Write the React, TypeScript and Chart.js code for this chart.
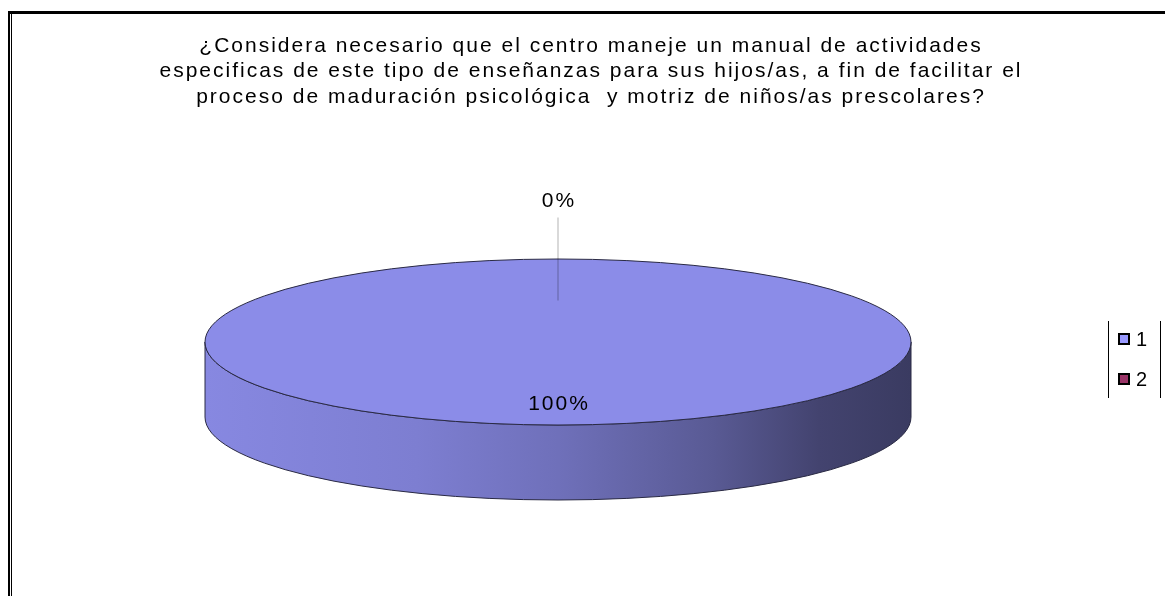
import React, { useEffect, useRef } from "react";
import { Chart, registerables } from "chart.js";

Chart.register(...registerables);

// ---------- data ----------
const categories = ["1", "2"];
const percentValues = [100, 0];
const sliceColors = ["#8b8ce8", "#993366"];
const legendSwatchColors = ["#9999ff", "#993366"];
const titleLines = [
  "¿Considera necesario que el centro maneje un manual de actividades",
  "especificas de este tipo de enseñanzas para sus hijos/as, a fin de facilitar el",
  "proceso de maduración psicológica  y motriz de niños/as prescolares?",
];

// ---------- layout constants ----------
const W = 1165;
const H = 596;
const CX = 558;
const CY = 342;
const RX = 353;
const RY = 83;
const DEPTH = 75;
const FONT = "'Liberation Sans', Arial, sans-serif";
const SPACING = "2px";

function shade(hex: string, f: number): string {
  const h = hex.replace("#", "");
  const r = Math.round(parseInt(h.slice(0, 2), 16) * f);
  const g = Math.round(parseInt(h.slice(2, 4), 16) * f);
  const b = Math.round(parseInt(h.slice(4, 6), 16) * f);
  return `rgb(${r},${g},${b})`;
}

const pie3d = {
  id: "pie3d",
  beforeDraw(chart: any) {
    const ctx = chart.ctx;
    ctx.save();
    ctx.fillStyle = "#ffffff";
    ctx.fillRect(0, 0, W, H);
    ctx.fillStyle = "#000000";
    ctx.fillRect(8, 11, W - 8, 3);
    ctx.fillRect(8, 11, 2, H - 11);
    ctx.fillRect(11, 13, 1, H - 13);
    ctx.restore();
    (ctx as any).letterSpacing = SPACING;
  },
  beforeDatasetsDraw(chart: any) {
    const ctx = chart.ctx;
    (ctx as any).letterSpacing = "0px";
    const meta = chart.getDatasetMeta(0);
    const colors = chart.data.datasets[0].backgroundColor as string[];
    meta.data.forEach((arc: any, i: number) => {
      const { startAngle, endAngle } = arc.getProps(["startAngle", "endAngle"], true);
      for (const off of [-2 * Math.PI, 0, 2 * Math.PI]) {
        const a = Math.max(startAngle, off);
        const b = Math.min(endAngle, off + Math.PI);
        if (b - a <= 1e-6) continue;
        const a0 = a - off;
        const b0 = b - off;
        const c = colors[i];
        const g = ctx.createLinearGradient(CX - RX, 0, CX + RX, 0);
        g.addColorStop(0, shade(c, 0.97));
        g.addColorStop(0.3, shade(c, 0.9));
        g.addColorStop(0.5, shade(c, 0.8));
        g.addColorStop(0.72, shade(c, 0.64));
        g.addColorStop(0.87, shade(c, 0.48));
        g.addColorStop(1, shade(c, 0.42));
        ctx.save();
        ctx.beginPath();
        ctx.ellipse(CX, CY, RX, RY, 0, a0, b0, false);
        ctx.ellipse(CX, CY + DEPTH, RX, RY, 0, b0, a0, true);
        ctx.closePath();
        ctx.fillStyle = g;
        ctx.fill();
        ctx.strokeStyle = "#2a2a44";
        ctx.lineWidth = 1;
        ctx.stroke();
        ctx.restore();
      }
    });
    const first = meta.data[0];
    const { x, y, outerRadius } = first.getProps(["x", "y", "outerRadius"], true);
    ctx.save();
    ctx.translate(CX, CY);
    ctx.scale(RX / outerRadius, RY / outerRadius);
    ctx.translate(-x, -y);
  },
  afterDatasetsDraw(chart: any) {
    const ctx = chart.ctx;
    ctx.restore();
    ctx.save();
    ctx.beginPath();
    ctx.ellipse(CX, CY, RX, RY, 0, 0, 2 * Math.PI);
    ctx.strokeStyle = "#2a2a44";
    ctx.lineWidth = 1;
    ctx.stroke();

    const meta = chart.getDatasetMeta(0);
    const values = chart.data.datasets[0].data as number[];
    (ctx as any).letterSpacing = SPACING;
    ctx.font = `21px ${FONT}`;
    ctx.fillStyle = "#000";
    ctx.textAlign = "center";
    ctx.textBaseline = "middle";
    meta.data.forEach((arc: any, i: number) => {
      const { startAngle, endAngle } = arc.getProps(["startAngle", "endAngle"], true);
      const mid = (startAngle + endAngle) / 2;
      const cs = Math.cos(mid);
      const sn = Math.sin(mid);
      const text = `${values[i]}%`;
      if (values[i] > 0) {
        ctx.fillText(text, CX + 1 + cs * RX * 0.75, CY + sn * RY * 0.75);
      } else {
        ctx.beginPath();
        ctx.moveTo(CX + cs * RX * 0.5, CY + sn * RY * 0.5);
        ctx.lineTo(CX + cs * RX * 1.5, CY + sn * RY * 1.5);
        ctx.strokeStyle = "rgba(0,0,0,0.3)";
        ctx.stroke();
        ctx.fillText(text, CX + 1 + cs * RX * 1.7, CY + sn * RY * 1.7);
      }
    });

    // legend
    ctx.fillStyle = "#000";
    ctx.fillRect(1108, 321, 1, 77);
    ctx.fillRect(1160, 321, 1, 77);
    ctx.textAlign = "left";
    ctx.font = `20px ${FONT}`;
    const labels = chart.data.labels as string[];
    labels.forEach((lab, i) => {
      const y = 333 + i * 40;
      ctx.fillStyle = "#000";
      ctx.fillRect(1118, y, 12, 12);
      ctx.fillStyle = legendSwatchColors[i];
      ctx.fillRect(1120, y + 2, 8, 8);
      ctx.fillStyle = "#000";
      ctx.fillText(lab, 1136, y + 7);
    });
    (ctx as any).letterSpacing = "0px";
    ctx.restore();
  },
};

export default function App() {
  const ref = useRef<HTMLCanvasElement | null>(null);
  useEffect(() => {
    if (!ref.current) return;
    const chart = new Chart(ref.current, {
      type: "pie",
      data: {
        labels: categories,
        datasets: [
          {
            data: percentValues,
            backgroundColor: sliceColors,
            borderWidth: 0,
          },
        ],
      },
      options: {
        responsive: false,
        animation: false,
        devicePixelRatio: 1,
        layout: { padding: { left: 17 } },
        plugins: {
          legend: { display: false },
          tooltip: { enabled: false },
          title: {
            display: true,
            text: titleLines,
            color: "#000",
            font: { family: FONT, size: 21, weight: "normal", lineHeight: "25.5px" as any },
            padding: { top: 33, bottom: 10 },
          },
        },
      },
      plugins: [pie3d],
    });
    return () => chart.destroy();
  }, []);
  return (
    <div style={{ position: "fixed", left: 0, top: 0, width: W, height: H, background: "#fff" }}>
      <canvas ref={ref} width={W} height={H} />
    </div>
  );
}
